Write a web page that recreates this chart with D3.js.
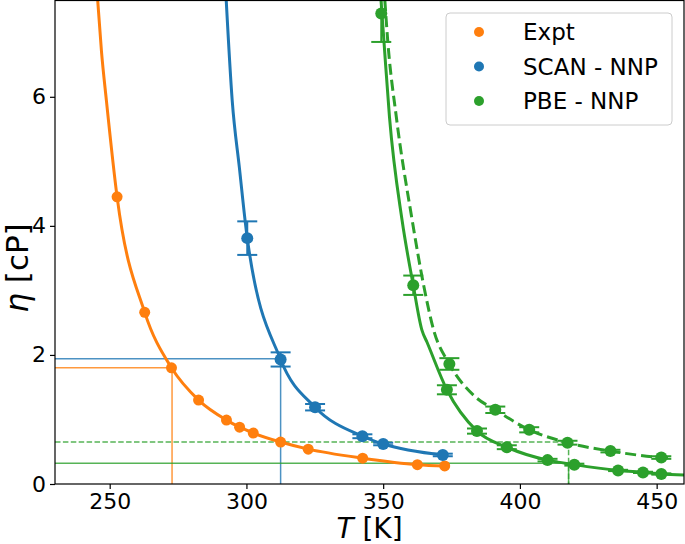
<!DOCTYPE html>
<html>
<head>
<meta charset="utf-8">
<script src="https://cdn.jsdelivr.net/npm/d3@7"></script>
<style>
  html, body { margin: 0; padding: 0; background: #fff; }
  svg { display: block; font-family: "DejaVu Sans", sans-serif; }
</style>
</head>
<body>
<svg id="chart" width="685" height="544"></svg>
<script>
// ---------------- data ----------------
const xTicks = [250, 300, 350, 400, 450];
const yTicks = [0, 2, 4, 6];
const legendLabels = ["Expt", "SCAN - NNP", "PBE - NNP"];

// Experimental points
const exptT   = [252.7, 262.8, 272.6, 282.5, 292.7, 297.5, 302.5, 312.5, 322.6, 342.5, 362.5, 372.5];
const exptEta = [4.45, 2.66, 1.80, 1.30, 0.99, 0.88, 0.79, 0.65, 0.54, 0.40, 0.30, 0.28];
const exptFitT   = [245.6, 247.0, 248.8, 252.7, 262.8, 272.6, 282.5, 292.7, 297.5, 302.5, 312.5, 322.6, 342.5, 362.5, 372.5];
const exptFitEta = [7.5, 6.7, 5.94, 4.45, 2.66, 1.80, 1.30, 0.99, 0.88, 0.79, 0.65, 0.54, 0.40, 0.30, 0.28];

// SCAN-NNP points with error bars
const scanT   = [300.3, 312.5, 325.1, 342.4, 350.0, 371.8];
const scanEta = [3.81, 1.93, 1.19, 0.74, 0.62, 0.45];
const scanErr = [0.26, 0.11, 0.05, 0.03, 0.02, 0.02];
const scanFitT   = [292.6, 294.8, 297.4, 300.3, 312.5, 325.1, 342.4, 350.0, 371.8];
const scanFitEta = [7.5, 5.94, 4.91, 3.81, 1.93, 1.19, 0.74, 0.62, 0.45];

// PBE-NNP (solid) points with error bars
const pbeT   = [349.3, 361.0, 373.3, 384.3, 395.2, 410.1, 419.9, 435.9, 445.0, 451.7];
const pbeEta = [7.29, 3.08, 1.46, 0.82, 0.57, 0.37, 0.30, 0.21, 0.18, 0.155];
const pbeErr = [0.44, 0.15, 0.07, 0.04, 0.03, 0.02, 0.015, 0.01, 0.01, 0.01];
const pbeFitT   = [349.2, 350.3, 352.3, 356.9, 361.0, 364.2, 366.0, 373.3, 384.3, 395.2, 410.1, 419.9, 435.9, 445.0, 451.7, 460.0];
const pbeFitEta = [7.5, 6.85, 5.69, 4.09, 3.08, 2.38, 2.20, 1.46, 0.82, 0.57, 0.37, 0.30, 0.21, 0.18, 0.155, 0.14];

// PBE-NNP (dashed) points with error bars
const pbe2T   = [374.2, 391.0, 403.4, 417.4, 433.1, 451.7];
const pbe2Eta = [1.86, 1.15, 0.84, 0.64, 0.51, 0.41];
const pbe2Err = [0.09, 0.05, 0.04, 0.03, 0.02, 0.02];
const pbe2FitT   = [350.6, 351.7, 354.8, 360.6, 364.8, 368.5, 374.2, 383.7, 391.0, 403.4, 417.4, 433.1, 451.7, 455.0];
const pbe2FitEta = [7.5, 6.85, 5.69, 4.09, 3.08, 2.38, 1.86, 1.35, 1.15, 0.84, 0.64, 0.51, 0.41, 0.40];

// Guide lines: [T, eta] of the crossing point
const guideT   = [272.8, 312.5, 417.8, 417.8];
const guideEta = [1.80, 1.94, 0.65, 0.32];

// ---------------- drawing ----------------
const colors = { expt: "#ff7f0e", scan: "#1f77b4", pbe: "#2ca02c" };
const W = 685, H = 544;
const plot = { left: 55, right: 684, top: 0, bottom: 484 };

const svg = d3.select("#chart");
const x = d3.scaleLinear().domain([230, 460]).range([plot.left, plot.right]);
const y = d3.scaleLinear().domain([0, 7.5]).range([plot.bottom, plot.top]);

svg.append("defs").append("clipPath").attr("id", "clip")
  .append("rect").attr("x", plot.left).attr("y", plot.top)
  .attr("width", plot.right - plot.left).attr("height", plot.bottom - plot.top);

const g = svg.append("g").attr("clip-path", "url(#clip)");

// guide lines
const guideColors = [colors.expt, colors.scan, colors.pbe, colors.pbe];
const guideDash = [null, null, "5.5,2.4", null];
guideT.forEach((t, i) => {
  const e = guideEta[i];
  const path = d3.path();
  path.moveTo(x(230), y(e));
  path.lineTo(x(t), y(e));
  path.lineTo(x(t), y(0));
  g.append("path").attr("d", path.toString())
    .attr("fill", "none").attr("stroke", guideColors[i])
    .attr("stroke-width", 1.5).attr("stroke-opacity", 0.8)
    .attr("stroke-dasharray", guideDash[i]);
});

const line = d3.line().x(d => x(d[0])).y(d => y(d[1])).curve(d3.curveMonotoneX);
function curve(ts, es, color, dash) {
  g.append("path").datum(ts.map((t, i) => [t, es[i]]))
    .attr("d", line).attr("fill", "none").attr("stroke", color)
    .attr("stroke-width", 3).attr("stroke-dasharray", dash);
}
function points(ts, es, errs, color, r) {
  const data = ts.map((t, i) => ({ t, e: es[i], err: errs ? errs[i] : 0 }));
  if (errs) {
    const eg = g.append("g").attr("stroke", color).attr("stroke-width", 2);
    data.forEach(d => {
      eg.append("line").attr("x1", x(d.t)).attr("x2", x(d.t))
        .attr("y1", y(d.e - d.err)).attr("y2", y(d.e + d.err));
      [d.e - d.err, d.e + d.err].forEach(v => {
        eg.append("line").attr("x1", x(d.t) - 10).attr("x2", x(d.t) + 10)
          .attr("y1", y(v)).attr("y2", y(v));
      });
    });
  }
  g.append("g").selectAll("circle").data(data).join("circle")
    .attr("cx", d => x(d.t)).attr("cy", d => y(d.e)).attr("r", r)
    .attr("fill", color);
}

curve(exptFitT, exptFitEta, colors.expt, null);
curve(scanFitT, scanFitEta, colors.scan, null);
curve(pbeFitT, pbeFitEta, colors.pbe, null);
curve(pbe2FitT, pbe2FitEta, colors.pbe, "11,5");

points(exptT, exptEta, null, colors.expt, 5.5);
points(scanT, scanEta, scanErr, colors.scan, 6);
points(pbeT, pbeEta, pbeErr, colors.pbe, 6);
points(pbe2T, pbe2Eta, pbe2Err, colors.pbe, 6);

// axes
const fs = 22;
const xAxis = svg.append("g").attr("transform", `translate(0,${plot.bottom})`)
  .call(d3.axisBottom(x).tickValues(xTicks).tickSize(5).tickPadding(4).tickSizeOuter(0));
const yAxis = svg.append("g").attr("transform", `translate(${plot.left},0)`)
  .call(d3.axisLeft(y).tickValues(yTicks).tickSize(5).tickPadding(4).tickSizeOuter(0));
[xAxis, yAxis].forEach(a => {
  a.select(".domain").remove();
  a.selectAll("text").attr("font-size", fs).attr("font-family", "DejaVu Sans").attr("fill", "#000");
  a.selectAll("line").attr("stroke", "#000").attr("stroke-width", 1.2);
});

// frame
svg.append("rect").attr("x", plot.left).attr("y", plot.top + 0.5)
  .attr("width", plot.right - plot.left).attr("height", plot.bottom - plot.top - 0.5)
  .attr("fill", "none").attr("stroke", "#000").attr("stroke-width", 1.2);

// axis labels
const xl = svg.append("text").attr("x", (plot.left + plot.right) / 2).attr("y", 538)
  .attr("text-anchor", "middle").attr("font-size", 28);
xl.append("tspan").attr("font-style", "italic").text("T");
xl.append("tspan").text(" [K]");

const yl = svg.append("text").attr("transform", `translate(28,268) rotate(-90)`)
  .attr("text-anchor", "middle").attr("font-size", 31);
yl.append("tspan").attr("font-style", "italic").text("η");
yl.append("tspan").text(" [cP]");

// legend
const lg = svg.append("g");
lg.append("rect").attr("x", 446).attr("y", 13).attr("width", 226).attr("height", 112)
  .attr("rx", 4).attr("fill", "#fff").attr("fill-opacity", 0.8)
  .attr("stroke", "#cccccc").attr("stroke-width", 1);
const legColors = [colors.expt, colors.scan, colors.pbe];
legendLabels.forEach((lab, i) => {
  const yy = 32 + i * 34.5;
  lg.append("circle").attr("cx", 479).attr("cy", yy).attr("r", 5).attr("fill", legColors[i]);
  lg.append("text").attr("x", 523).attr("y", yy).attr("dy", "0.36em")
    .attr("font-size", 23).text(lab);
});
</script>
</body>
</html>
